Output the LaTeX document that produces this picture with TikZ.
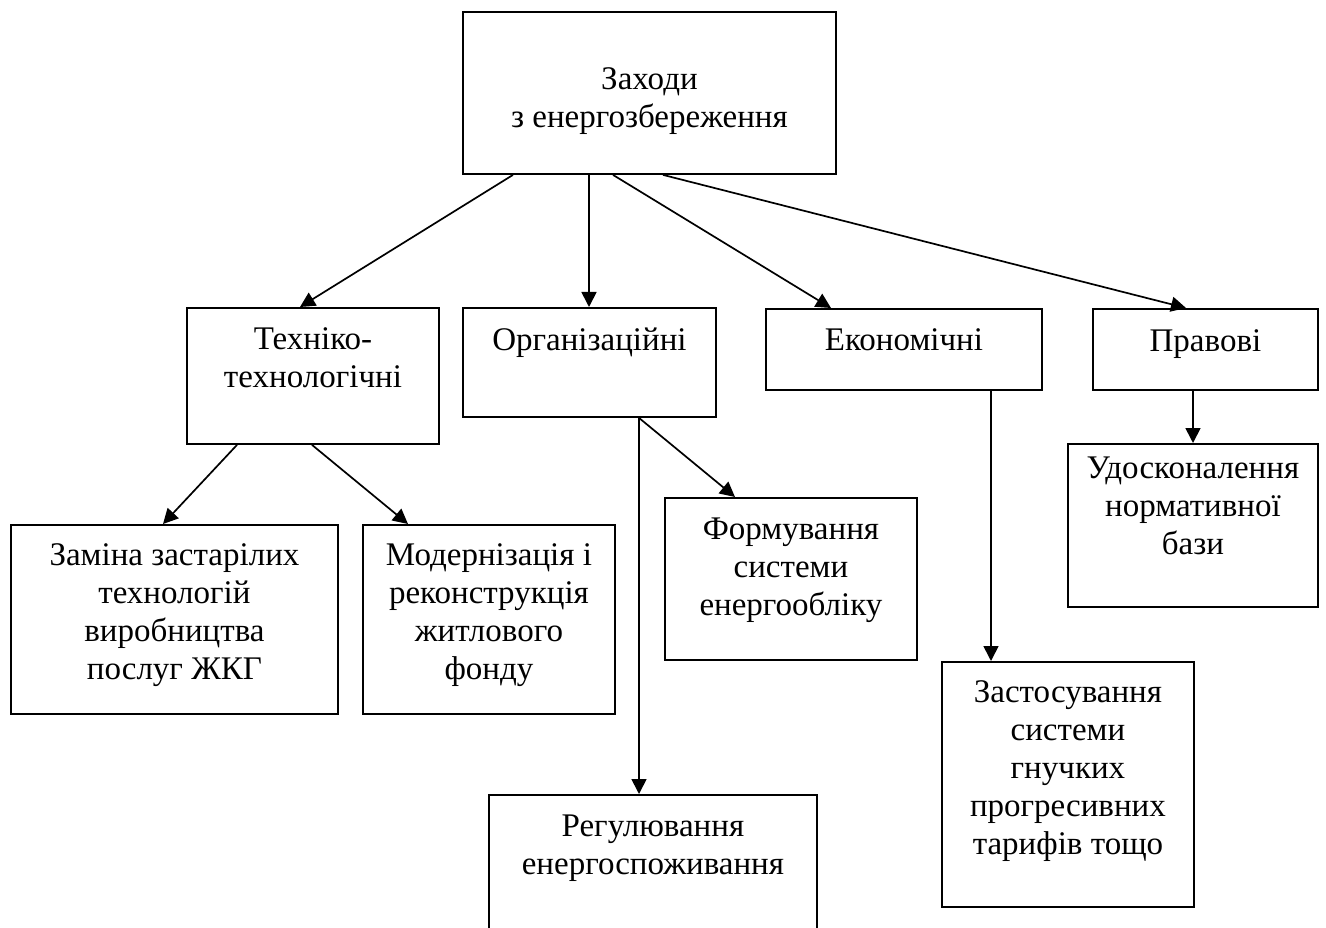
\documentclass[tikz,border=0pt]{standalone}
\usepackage{fontspec}
\setmainfont{Liberation Serif}
\usetikzlibrary{arrows.meta,calc}
\newcommand\mytab[1]{\begin{tabular}[t]{@{}c@{}}#1\end{tabular}}
\begin{document}
\begin{tikzpicture}[x=1pt,y=-1pt,
  box/.style={draw=black,line width=1.9pt,rectangle,anchor=north west,inner sep=0pt,fill=none},
  lbl/.style={anchor=base,inner sep=0pt,font=\fontsize{33}{38}\selectfont},
  arr/.style={line width=1.7pt,-{Triangle[length=15pt,width=15pt]}}]
\useasboundingbox (0,0) rectangle (1326,928);
% boxes
\node[box,minimum width=373pt,minimum height=162pt] (Z) at (462,11) {};
\node[box,minimum width=252pt,minimum height=136pt] (T) at (186,307) {};
\node[box,minimum width=253pt,minimum height=109pt] (O) at (462,307) {};
\node[box,minimum width=276pt,minimum height=81pt] (E) at (765,308) {};
\node[box,minimum width=225pt,minimum height=81pt] (P) at (1092,308) {};
\node[box,minimum width=327pt,minimum height=189pt] (Zam) at (10,524) {};
\node[box,minimum width=252pt,minimum height=189pt] (Mod) at (362,524) {};
\node[box,minimum width=252pt,minimum height=162pt] (F) at (664,497) {};
\node[box,minimum width=328pt,minimum height=160pt] (R) at (488,794) {};
\node[box,minimum width=252pt,minimum height=245pt] (Zas) at (941,661) {};
\node[box,minimum width=250pt,minimum height=163pt] (U) at (1067,443) {};
% labels
\node[lbl] (tZ) at ($(Z.north)+(0,79)$) {\mytab{Заходи\\з енергозбереження}};
\node[lbl] (tT) at ($(T.north)+(0,42)$) {\mytab{Техніко-\\технологічні}};
\node[lbl] (tO) at ($(O.north)+(0,43)$) {Організаційні};
\node[lbl] (tE) at ($(E.north)+(0,42)$) {Економічні};
\node[lbl] (tP) at ($(P.north)+(0,43)$) {Правові};
\node[lbl] (tZam) at ($(Zam.north)+(0,41)$) {\mytab{Заміна застарілих\\технологій\\виробництва\\послуг ЖКГ}};
\node[lbl] (tMod) at ($(Mod.north)+(0,41)$) {\mytab{Модернізація і\\реконструкція\\житлового\\фонду}};
\node[lbl] (tF) at ($(F.north)+(0,42)$) {\mytab{Формування\\системи\\енергообліку}};
\node[lbl] (tR) at ($(R.north)+(0,42)$) {\mytab{Регулювання\\енергоспоживання}};
\node[lbl] (tZas) at ($(Zas.north)+(0,41)$) {\mytab{Застосування\\системи\\гнучких\\прогресивних\\тарифів тощо}};
\node[lbl] (tU) at ($(U.north)+(0,35)$) {\mytab{Удосконалення\\нормативної\\бази}};
% connectors
\draw[arr] ([xshift=51pt]Z.south west) -- ([xshift=114pt]T.north west);
\draw[arr] ([xshift=127pt]Z.south west) -- ([xshift=127pt]O.north west);
\draw[arr] ([xshift=151pt]Z.south west) -- ([xshift=66pt]E.north west);
\draw[arr] ([xshift=201pt]Z.south west) -- ([xshift=94pt]P.north west);
\draw[arr] ([xshift=51pt]T.south west) -- ([xshift=153pt]Zam.north west);
\draw[arr] ([xshift=126pt]T.south west) -- ([xshift=46pt]Mod.north west);
\draw[arr] ([xshift=177pt]O.south west) -- ([xshift=71pt]F.north west);
\draw[arr] ([xshift=177pt]O.south west) -- ([xshift=151pt]R.north west);
\draw[arr] ([xshift=226pt]E.south west) -- ([xshift=50pt]Zas.north west);
\draw[arr] ([xshift=101pt]P.south west) -- ([xshift=126pt]U.north west);
\end{tikzpicture}
\end{document}
